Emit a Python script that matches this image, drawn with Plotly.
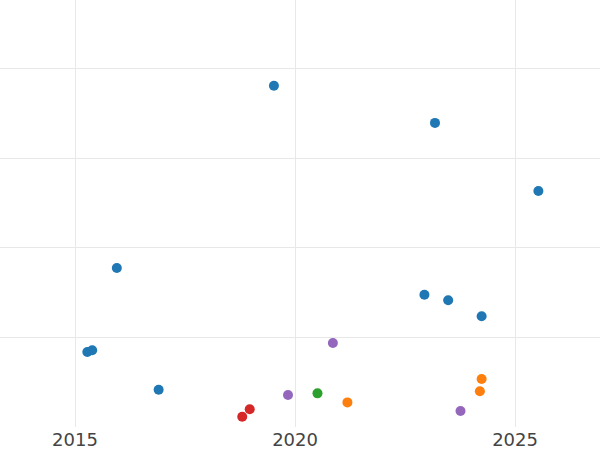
import plotly.graph_objects as go

blue_x = [2019.52, 2023.18, 2025.53, 2015.95, 2015.28, 2015.39, 2016.90, 2022.94, 2023.48, 2024.24]
blue_y = [3.813, 3.397, 2.637, 1.777, 0.838, 0.857, 0.417, 1.478, 1.416, 1.237]
orange_x = [2021.19, 2024.24, 2024.20]
orange_y = [0.275, 0.536, 0.399]
green_x = [2020.51]
green_y = [0.376]
red_x = [2018.80, 2018.97]
red_y = [0.115, 0.198]
purple_x = [2019.84, 2020.86, 2023.76]
purple_y = [0.358, 0.939, 0.179]

series = [
    (blue_x, blue_y, "#1f77b4"),
    (orange_x, orange_y, "#ff7f0e"),
    (green_x, green_y, "#2ca02c"),
    (red_x, red_y, "#d62728"),
    (purple_x, purple_y, "#9467bd"),
]

fig = go.Figure()
for xs, ys, c in series:
    fig.add_trace(go.Scatter(x=xs, y=ys, mode="markers",
                             marker=dict(color=c, size=10, line=dict(width=0)),
                             showlegend=False))

fig.update_layout(
    width=600, height=450,
    margin=dict(l=0, r=0, t=0, b=23),
    plot_bgcolor="white", paper_bgcolor="white",
    showlegend=False,
    font=dict(family="DejaVu Sans", color="#444"),
)
fig.update_xaxes(range=[2013.295, 2026.93], tickvals=[2015, 2020, 2025],
                 ticktext=["2015", "2020", "2025"],
                 showgrid=True, gridcolor="#e8e8e8", gridwidth=1,
                 zeroline=False, showline=False, ticks="",
                 tickfont=dict(size=18, color="#444"), automargin=False)
fig.update_yaxes(range=[0, 4.77], dtick=1, tick0=0,
                 showgrid=True, gridcolor="#e8e8e8", gridwidth=1,
                 zeroline=False, showline=False, showticklabels=False,
                 ticks="", automargin=False)

fig.write_html("out.html", config={"displayModeBar": False},
               post_script="document.body.style.margin='0';document.body.style.padding='0';")
